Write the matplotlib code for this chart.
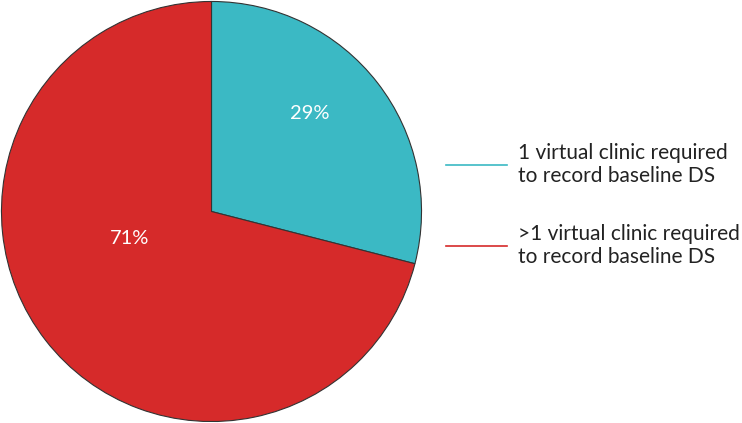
import matplotlib
matplotlib.use("Agg")
import matplotlib.pyplot as plt
from matplotlib.lines import Line2D
import numpy as np

labels = ["1 virtual clinic required\nto record baseline DS",
          ">1 virtual clinic required\nto record baseline DS"]
values = [29, 71]
colors = ["#3bb9c4", "#d62a2a"]
pct_labels = ["29%", "71%"]

plt.rcParams['font.family'] = ['Lato', 'DejaVu Sans']

fig = plt.figure(figsize=(7.42, 4.23), dpi=100)
ax = fig.add_axes([0.0, 0.0, 423/742, 1.0])
wedges, _ = ax.pie(values, colors=colors, startangle=90, counterclock=False,
                   radius=1.0, wedgeprops=dict(edgecolor="#333333", linewidth=0.8))
ax.set_xlim(-1.007, 1.007)
ax.set_ylim(-1.007, 1.007)
ax.set_aspect('equal')
ax.axis('off')

# label positions (radius fraction, angle in degrees)
label_pos = [(0.66, 45.0), (0.41, 198.0)]
for txt, (r, a) in zip(pct_labels, label_pos):
    ax.text(r*np.cos(np.radians(a)), r*np.sin(np.radians(a)), txt,
            color="white", fontsize=14.5, ha="center", va="center")

handles = [Line2D([0], [0], color=c, lw=1.2) for c in colors]
leg = fig.legend(handles, labels, loc="center left", bbox_to_anchor=(446/742, 1-205/423),
                 frameon=False, fontsize=15, handlelength=2.95, handletextpad=0.5,
                 labelspacing=1.85, labelcolor="#222222", borderpad=0, borderaxespad=0)
for t in leg.get_texts():
    t.set_linespacing(1.15)

fig.savefig("out.png", dpi=100)
